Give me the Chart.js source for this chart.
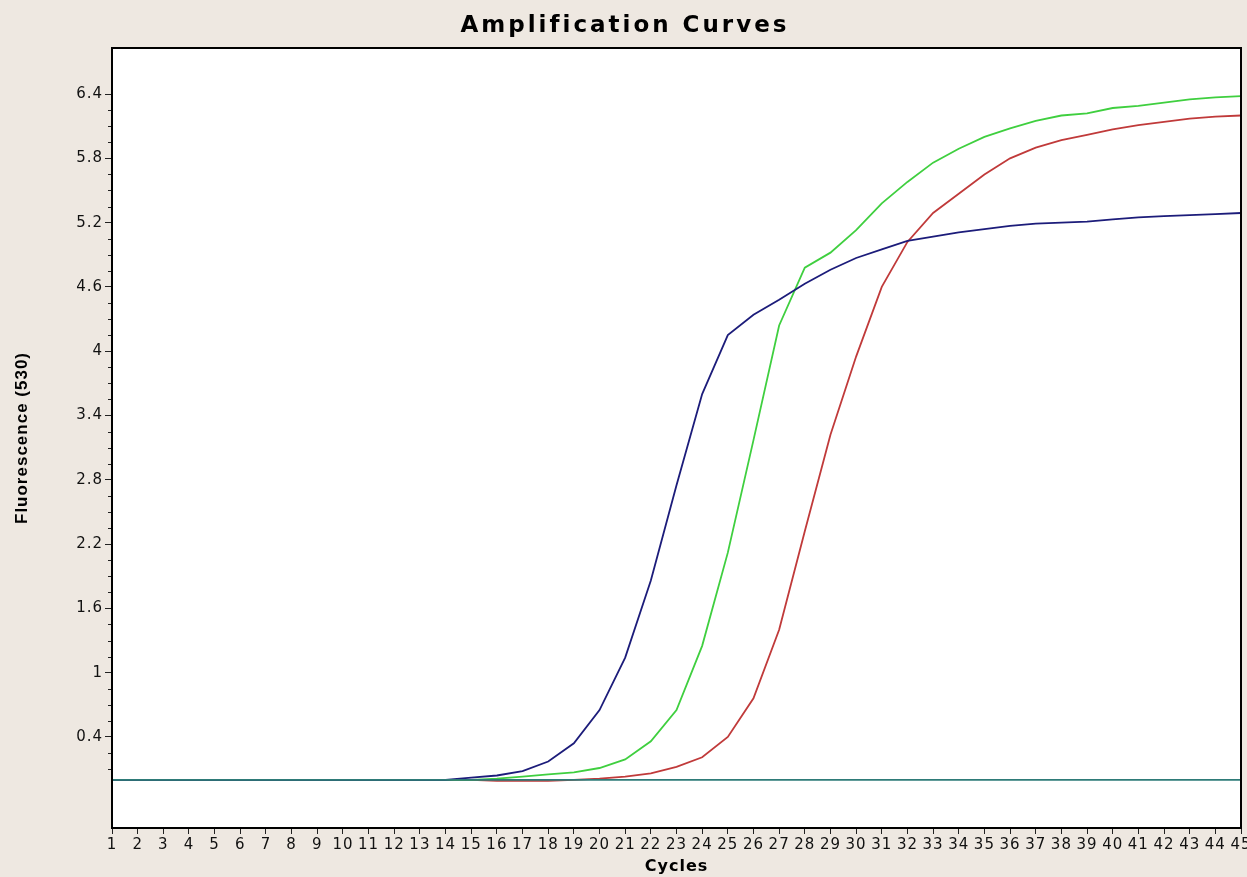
<!DOCTYPE html>
<html>
<head>
<meta charset="utf-8">
<title>Amplification Curves</title>
<script src="https://cdn.jsdelivr.net/npm/chart.js@4.4.1/dist/chart.umd.min.js"></script>
<style>
  html, body { margin: 0; padding: 0; background: #eee8e1; }
  #caixa { width: 1247px; height: 877px; }
</style>
</head>
<body>
<div id="caixa"><canvas id="graficoCurvas" width="1247" height="877"></canvas></div>
<script>
const ciclos = [
  1, 2, 3, 4, 5, 6, 7, 8, 9, 10, 11, 12, 13, 14, 15, 16, 17, 18, 19, 20, 21, 22, 23,
  24, 25, 26, 27, 28, 29, 30, 31, 32, 33, 34, 35, 36, 37, 38, 39, 40, 41, 42, 43, 44, 45,
];

// amostra azul (sobe primeiro)
const azul = [
  0, 0, 0, 0, 0, 0, 0, 0, 0, 0, 0, 0, 0, 0, 0.02, 0.04, 0.08, 0.17, 0.34, 0.65, 1.14, 1.86, 2.75,
  3.6, 4.15, 4.34, 4.48, 4.63, 4.76, 4.87, 4.95, 5.03, 5.07, 5.11, 5.14, 5.17, 5.19, 5.2, 5.21,
  5.23, 5.25, 5.26, 5.27, 5.28, 5.29,
];

const verde = [
  0, 0, 0, 0, 0, 0, 0, 0, 0, 0, 0, 0, 0, 0, 0, 0.01, 0.03, 0.05, 0.07, 0.11, 0.19, 0.36, 0.65,
  1.25, 2.12, 3.17, 4.24, 4.78, 4.92, 5.13, 5.38, 5.58, 5.76, 5.89, 6.0, 6.08, 6.15, 6.2, 6.22,
  6.27, 6.29, 6.32, 6.35, 6.37, 6.38,
];

const vermelho = [
  0, 0, 0, 0, 0, 0, 0, 0, 0, 0, 0, 0, 0, 0, 0, -0.01, -0.01, -0.01, 0, 0.01, 0.03, 0.06, 0.12,
  0.21, 0.4, 0.76, 1.4, 2.32, 3.22, 3.95, 4.6, 5.02, 5.29, 5.47, 5.65, 5.8, 5.9, 5.97, 6.02,
  6.07, 6.11, 6.14, 6.17, 6.19, 6.2,
];

// linha de base (threshold)
const linhaBase = [
  0, 0, 0, 0, 0, 0, 0, 0, 0, 0, 0, 0, 0, 0, 0, 0, 0, 0, 0, 0, 0, 0, 0,
  0, 0, 0, 0, 0, 0, 0, 0, 0, 0, 0, 0, 0, 0, 0, 0, 0, 0, 0, 0, 0, 0,
];

const ticksY = [0.4, 1, 1.6, 2.2, 2.8, 3.4, 4, 4.6, 5.2, 5.8, 6.4];
const passoMenor = 0.15;

const corFundo = "#eee8e1";

const fundoPlugin = {
  id: "fundo",
  beforeDraw(chart) {
    const { ctx, chartArea: a } = chart;
    ctx.save();
    ctx.fillStyle = corFundo;
    ctx.fillRect(0, 0, chart.width, chart.height);
    ctx.fillStyle = "#ffffff";
    ctx.fillRect(a.left, a.top, a.right - a.left, a.bottom - a.top);
    ctx.restore();
    ctx.letterSpacing = "1px";
  },
  afterDraw(chart) {
    const { ctx, chartArea: a } = chart;
    const y = chart.scales.y;
    ctx.save();
    // ticks menores do eixo y
    ctx.strokeStyle = "#222";
    ctx.lineWidth = 1;
    for (let v = ticksY[0] - 2 * passoMenor; v <= ticksY[ticksY.length - 1] + 1e-6; v += passoMenor) {
      if (ticksY.some((t) => Math.abs(t - v) < 1e-6)) continue;
      const py = Math.round(y.getPixelForValue(v)) + 0.5;
      ctx.beginPath();
      ctx.moveTo(a.left - 4, py);
      ctx.lineTo(a.left, py);
      ctx.stroke();
    }
    // moldura
    ctx.strokeStyle = "#000";
    ctx.lineWidth = 2;
    ctx.strokeRect(a.left, a.top, a.right - a.left, a.bottom - a.top);
    // titulo
    ctx.fillStyle = "#000";
    ctx.font = 'bold 23px "DejaVu Sans"';
    ctx.letterSpacing = "3px";
    ctx.textAlign = "center";
    ctx.textBaseline = "alphabetic";
    ctx.fillText("Amplification Curves", chart.width / 2 + 1.5, 32);
    ctx.restore();
  },
};

const linha = (cor, dados) => ({
  data: dados,
  borderColor: cor,
  borderWidth: 1.8,
  pointRadius: 0,
  tension: 0,
  fill: false,
});

new Chart(document.getElementById("graficoCurvas"), {
  type: "line",
  data: {
    labels: ciclos,
    datasets: [
      linha("#2e7b78", linhaBase),
      linha("#1c1c7a", azul),
      linha("#3fcf3f", verde),
      linha("#c03a3a", vermelho),
    ],
  },
  options: {
    responsive: false,
    animation: false,
    devicePixelRatio: 1,
    layout: { padding: { top: 48, right: 6, left: 0, bottom: 0 } },
    plugins: {
      legend: { display: false },
      tooltip: { enabled: false },
    },
    scales: {
      x: {
        type: "linear",
        min: 1,
        max: 45,
        grid: { drawOnChartArea: false, tickLength: 6, tickColor: "#222" },
        border: { display: false },
        ticks: {
          stepSize: 1,
          autoSkip: false,
          maxRotation: 0,
          minRotation: 0,
          padding: 2,
          color: "#111",
          font: { family: "DejaVu Sans", size: 15 },
        },
        title: {
          display: true,
          text: "Cycles",
          color: "#000",
          font: { family: "DejaVu Sans", weight: "bold", size: 16 },
          padding: { top: 0, bottom: 1 },
        },
        afterFit(s) {
          s.height = 49;
          s.paddingLeft = 0;
          s.paddingRight = 0;
        },
      },
      y: {
        min: -0.45,
        max: 6.83,
        grid: { drawOnChartArea: false, tickLength: 7, tickColor: "#222" },
        border: { display: false },
        afterBuildTicks(s) {
          s.ticks = ticksY.map((v) => ({ value: v }));
        },
        ticks: {
          padding: 2,
          color: "#111",
          font: { family: "DejaVu Sans", size: 15 },
          callback: (v) => String(Math.round(v * 10) / 10),
        },
        title: {
          display: true,
          text: "Fluorescence (530)",
          color: "#000",
          font: { family: "Liberation Sans", weight: "bold", size: 17 },
          padding: { top: 12, bottom: 0 },
        },
        afterFit(s) {
          s.width = 112;
          s.paddingTop = 0;
          s.paddingBottom = 0;
        },
      },
    },
  },
  plugins: [fundoPlugin],
});
</script>
</body>
</html>
